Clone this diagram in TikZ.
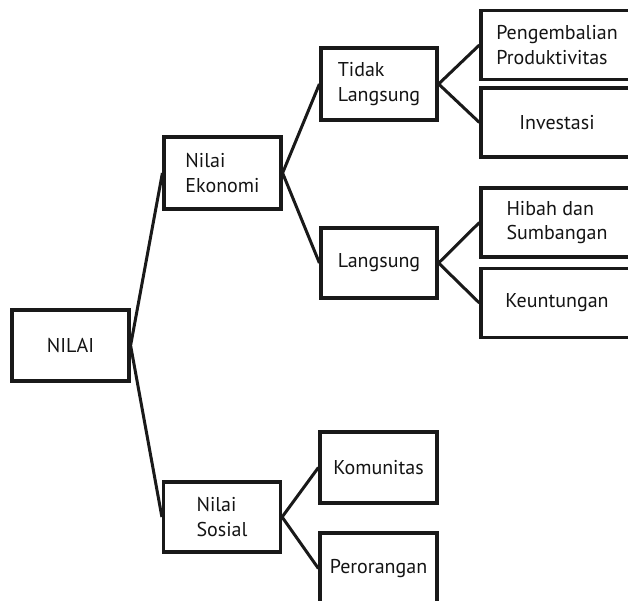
\documentclass[tikz,border=0pt]{standalone}
\usepackage{fontspec}
\setmainfont{PT Sans}
\begin{document}
\begin{tikzpicture}[x=1pt,y=-1pt,
  box/.style={draw=black!90, line width=3.2pt, fill=white, inner sep=0pt,
    align=left, font=\fontsize{20}{24.5}\selectfont, text=black!92},
  link/.style={draw=black!90, line width=3pt}]
\clip (0,0) rectangle (628,601);
\fill[white] (0,0) rectangle (628,601);
% nodes (positioned by centre, sized by min width/height)
\node[box, minimum width=117pt, minimum height=71pt] (nilai) at (70.5,345.5) {NILAI};
\node[box, minimum width=117pt, minimum height=72pt] (eko) at (222.5,173) {Nilai\\Ekonomi};
\node[box, minimum width=117pt, minimum height=70pt] (sos) at (222,517) {Nilai\\Sosial};
\node[box, minimum width=116pt, minimum height=72pt] (tl) at (379,84) {Tidak\\Langsung};
\node[box, minimum width=116pt, minimum height=70pt] (l) at (379,263) {Langsung};
\node[box, minimum width=117pt, minimum height=71pt] (kom) at (378.5,467.5) {Komunitas};
\node[box, minimum width=117pt, minimum height=71pt] (per) at (378.5,568.5) {Perorangan};
\node[box, minimum width=152pt, minimum height=69pt] (peng) at (557,45) {Pengembalian\\Produktivitas};
\node[box, minimum width=152pt, minimum height=69pt] (inv) at (557,122.5) {Investasi};
\node[box, minimum width=152pt, minimum height=69pt] (hib) at (557,222.5) {Hibah dan\\Sumbangan};
\node[box, minimum width=152pt, minimum height=69pt] (keu) at (557,303) {Keuntungan};
% connectors
\draw[link] (eko.west) -- (nilai.east) -- (sos.west);
\draw[link] (tl.west) -- (eko.east) -- (l.west);
\draw[link] (kom.west) -- (sos.east) -- (per.west);
\draw[link] (peng.west) -- (tl.east) -- (inv.west);
\draw[link] (hib.west) -- (l.east) -- (keu.west);
\end{tikzpicture}
\end{document}
